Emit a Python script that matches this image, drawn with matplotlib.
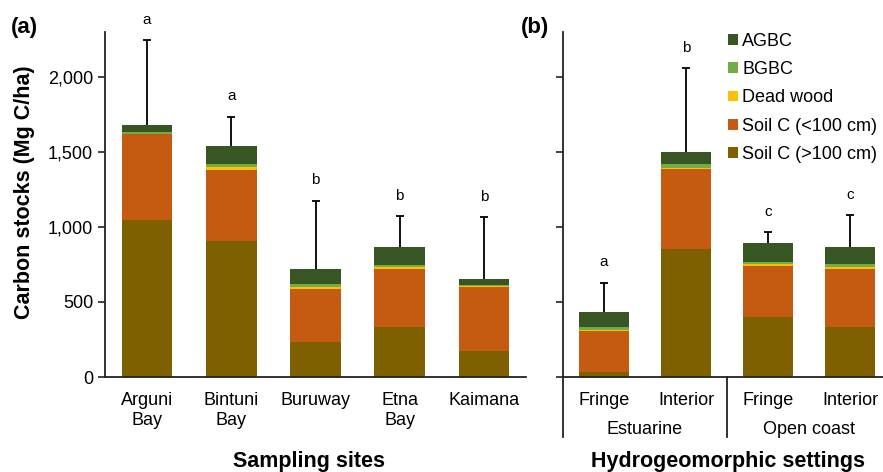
import matplotlib
matplotlib.use("Agg")
import matplotlib.pyplot as plt
from matplotlib.patches import Patch
from matplotlib.lines import Line2D
import numpy as np

plt.rcParams['font.family'] = ['Liberation Sans', 'DejaVu Sans']

# ---- data: panel (a) sampling sites ----
sites = ["Arguni\nBay", "Bintuni\nBay", "Buruway", "Etna\nBay", "Kaimana"]
a_soil_deep = [1047, 907, 231, 333, 173]
a_soil_top = [570, 473, 354, 387, 425]
a_dead = [5, 22, 13, 13, 9]
a_bgbc = [13, 20, 20, 16, 8]
a_agbc = [45, 118, 104, 116, 36]
a_err = [567, 195, 453, 208, 414]
a_letters = ["a", "a", "b", "b", "b"]

# ---- data: panel (b) hydrogeomorphic settings ----
settings = ["Fringe", "Interior", "Fringe", "Interior"]
groups = ["Estuarine", "Open coast"]
b_soil_deep = [33, 853, 402, 331]
b_soil_top = [272, 534, 338, 389]
b_dead = [8, 8, 11, 13]
b_bgbc = [20, 23, 13, 20]
b_agbc = [98, 82, 127, 112]
b_err = [198, 558, 76, 215]
b_letters = ["a", "b", "c", "c"]

comp_names = ["AGBC", "BGBC", "Dead wood", "Soil C (<100 cm)", "Soil C (>100 cm)"]
colors = {"AGBC": "#375623", "BGBC": "#70AD47", "Dead wood": "#FFC000",
          "Soil C (<100 cm)": "#C55A11", "Soil C (>100 cm)": "#7F6000"}

W, H = 883, 472
fig = plt.figure(figsize=(W / 100, H / 100), dpi=100)

YMAX = 2300
px_per_unit = 0.15
ax_h = YMAX * px_per_unit / H
y0 = (H - 377) / H

axA = fig.add_axes([105 / W, y0, 421 / W, ax_h])
axB = fig.add_axes([563 / W, y0, 328 / W, ax_h])


def draw(ax, labels, deep, top, dead, bgbc, agbc, err, letters):
    x = np.arange(len(labels))
    stack = [("Soil C (>100 cm)", deep), ("Soil C (<100 cm)", top),
             ("Dead wood", dead), ("BGBC", bgbc), ("AGBC", agbc)]
    bottom = np.zeros(len(labels))
    for name, vals in stack:
        ax.bar(x, vals, width=0.6, bottom=bottom, color=colors[name],
               edgecolor='none', zorder=2)
        bottom = bottom + np.array(vals)
    eb = ax.errorbar(x, bottom, yerr=[np.zeros(len(x)), err], fmt='none',
                     ecolor='black', elinewidth=1.3, capsize=3, capthick=1.3, zorder=3)
    eb[1][0].set_visible(False)  # hide lower caps
    for xi, t, e, l in zip(x, bottom, err, letters):
        ax.text(xi, t + e + 135, l, ha='center', va='center', fontsize=11)
    ax.set_xlim(-0.5, len(labels) - 0.5)
    ax.set_ylim(0, YMAX)
    ax.set_xticks(x)
    ax.set_xticklabels(labels, fontsize=13)
    ax.tick_params(axis='x', length=0, pad=11)
    ax.tick_params(axis='y', length=5, width=1.2, direction='out', labelsize=13, color='#222222')
    ax.set_yticks([0, 500, 1000, 1500, 2000])
    for s in ['top', 'right']:
        ax.spines[s].set_visible(False)
    for s in ['left', 'bottom']:
        ax.spines[s].set_linewidth(1.3)
        ax.spines[s].set_color('#222222')


draw(axA, sites, a_soil_deep, a_soil_top, a_dead, a_bgbc, a_agbc, a_err, a_letters)
axA.set_yticklabels(["0", "500", "1,000", "1,500", "2,000"])

draw(axB, settings, b_soil_deep, b_soil_top, b_dead, b_bgbc, b_agbc, b_err, b_letters)
axB.set_yticklabels([])

# group separators and group labels in panel (b)
sep_len = 60 / (YMAX * px_per_unit)
tr = axB.get_xaxis_transform()
for xs in [-0.5, 1.5]:
    axB.add_line(Line2D([xs, xs], [0, -sep_len], transform=tr, color='#222222',
                        lw=1.3, clip_on=False))
for gi, g in enumerate(groups):
    axB.text(gi * 2 + 0.5, -52 / (YMAX * px_per_unit), g, transform=tr,
             ha='center', va='center', fontsize=13)

# axis titles
fig.text(25 / W, 1 - 192 / H, "Carbon stocks (Mg C/ha)", rotation=90,
         ha='center', va='center', fontsize=15.5, fontweight='bold')
fig.text(309 / W, 1 - 461 / H, "Sampling sites", ha='center', va='center',
         fontsize=15.5, fontweight='bold')
fig.text(728 / W, 1 - 461 / H, "Hydrogeomorphic settings", ha='center', va='center',
         fontsize=15.5, fontweight='bold')
fig.text(24 / W, 1 - 28 / H, "(a)", ha='center', va='center', fontsize=16, fontweight='bold')
fig.text(535 / W, 1 - 28 / H, "(b)", ha='center', va='center', fontsize=16, fontweight='bold')

# legend
handles = [Patch(facecolor=colors[n], edgecolor='none', label=n) for n in comp_names]
fig.legend(handles=handles, loc='upper left', bbox_to_anchor=(728 / W, 1 - 33 / H),
           frameon=False, fontsize=13, handlelength=0.55, handleheight=0.55,
           handletextpad=0.25, labelspacing=0.62, borderaxespad=0, borderpad=0)

fig.savefig("out.png", dpi=100)
